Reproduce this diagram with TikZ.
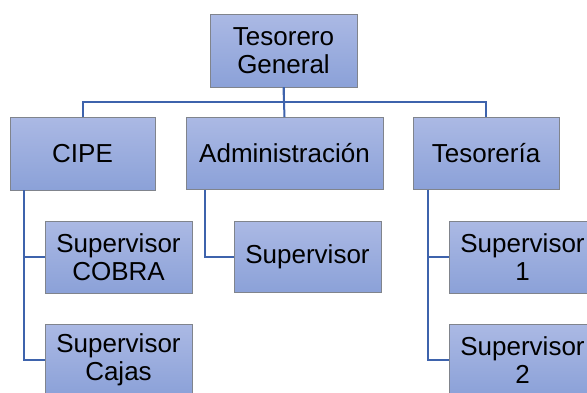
\documentclass[tikz,border=0pt]{standalone}
\usepackage{fontspec}
\setmainfont{Liberation Sans}
\usepackage{xcolor}
\definecolor{boxtop}{RGB}{171,185,228}
\definecolor{boxbot}{RGB}{139,161,216}
\definecolor{boxline}{RGB}{128,132,140}
\definecolor{linkblue}{RGB}{62,99,172}

\begin{document}
\begin{tikzpicture}[x=1pt, y=-1pt,
  box/.style={draw=boxline, line width=0.9pt, top color=boxtop, bottom color=boxbot,
    align=center, minimum width=147pt, minimum height=72pt, inner sep=2pt,
    font=\fontsize{26}{28}\selectfont},
  link/.style={draw=linkblue, line width=2pt}]
  \useasboundingbox (0,0) rectangle (587,392);
  \clip (0,0) rectangle (587,392);

  % Top
  \node[box, minimum height=73pt] (tg) at (283.5, 50.5) {Tesorero\\General};

  % Second row
  \node[box, minimum width=145pt, minimum height=73pt] (cipe) at (82.5, 153.5) {CIPE};
  \node[box, minimum width=197pt] (admin) at (284.5, 153.5) {Administración};
  \node[box, minimum width=146pt] (tes) at (486, 153.5) {Tesorería};

  % Supervisors
  \node[box] (supcobra) at (118.5, 257) {Supervisor\\COBRA};
  \node[box] (supcajas) at (118.5, 360) {Supervisor\\Cajas};
  \node[box, minimum height=71pt] (supadm) at (307.5, 257) {Supervisor};
  \node[box] (sup1) at (522.5, 257) {Supervisor\\1};
  \node[box] (sup2) at (522.5, 360) {Supervisor\\2};

  % Links top -> second row
  \draw[link] (tg.south) -- ++(0,15) -| (cipe.north);
  \draw[link] (tg.south) -- (admin.north);
  \draw[link] (tg.south) -- ++(0,15) -| (tes.north);

  % Links second row -> supervisors
  \draw[link] ([xshift=14pt]cipe.south west) |- (supcobra.west);
  \draw[link] ([xshift=14pt]cipe.south west) |- (supcajas.west);
  \draw[link] ([xshift=19.5pt]admin.south west) |- (supadm.west);
  \draw[link] ([xshift=15pt]tes.south west) |- (sup1.west);
  \draw[link] ([xshift=15pt]tes.south west) |- (sup2.west);
\end{tikzpicture}
\end{document}
